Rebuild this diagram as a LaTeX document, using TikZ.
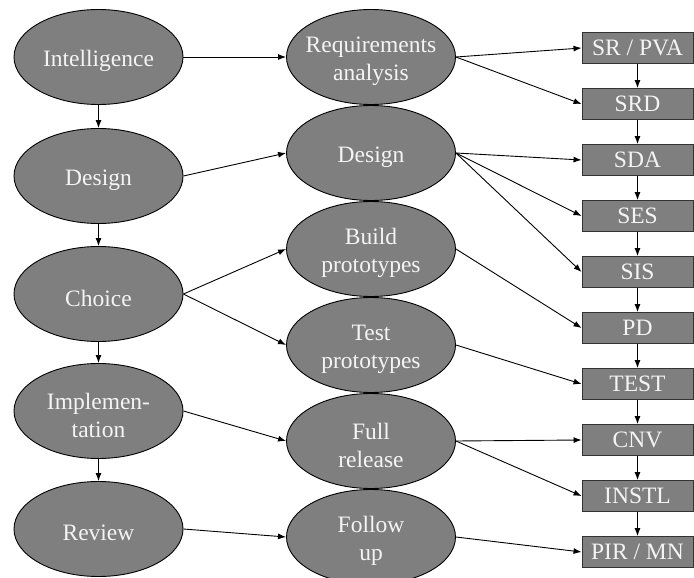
\documentclass[tikz,border=0pt]{standalone}
\usepackage{fontspec}
\setmainfont{Liberation Serif}
\usepackage{xcolor}
\usetikzlibrary{shapes.geometric,arrows.meta}

\definecolor{phasegray}{HTML}{7F7F7F}
\definecolor{phasetext}{HTML}{F4F4F4}

\tikzset{
  phase/.style={ellipse, draw=black, line width=0.9pt, fill=phasegray,
    minimum width=169pt, minimum height=95pt, inner sep=0pt},
  txt/.style={text=phasetext, align=center, inner sep=0pt, yshift=-4pt,
    font=\fontsize{23.5}{28}\selectfont},
  doc/.style={rectangle, draw=black!80, line width=0.9pt, fill=phasegray,
    text=phasetext, minimum width=111pt, minimum height=31pt, inner sep=0pt,
    font=\fontsize{23.5}{28}\selectfont},
  arr/.style={-{Latex[length=8pt,width=6pt]}, line width=0.9pt}
}

\begin{document}
\begin{tikzpicture}[x=1pt,y=-1pt]
  \useasboundingbox (0,0) rectangle (694,578);
  \def\lx{98.5};
  \def\mx{371};
  \def\bx{637.5};

  % phases of the decision process %
  \node[phase, label={[txt]center:Intelligence}] (intel) at (\lx,57) {};
  \node[phase, label={[txt]center:Design}] (ldes) at (\lx,176) {};
  \node[phase, label={[txt]center:Choice}] (choice) at (\lx,294) {};
  \node[phase, label={[txt]center:{Implemen-\\tation}}] (impl) at (\lx,411) {};
  \node[phase, label={[txt]center:Review}] (review) at (\lx,529) {};

  % development steps %
  \node[phase, label={[txt]center:{Requirements\\analysis}}] (req) at (\mx,57) {};
  \node[phase, label={[txt]center:Design}] (mdes) at (\mx,153) {};
  \node[phase, label={[txt]center:{Build\\prototypes}}] (build) at (\mx,249) {};
  \node[phase, label={[txt]center:{Test\\prototypes}}] (test) at (\mx,345) {};
  \node[phase, label={[txt]center:{Full\\release}}] (full) at (\mx,441) {};
  \node[phase, label={[txt]center:{Follow\\up}}] (follow) at (\mx,537) {};

  % documents %
  \node[doc] (srpva) at (\bx,48) {SR / PVA};
  \node[doc] (srd) at (\bx,104) {SRD};
  \node[doc] (sda) at (\bx,160) {SDA};
  \node[doc] (ses) at (\bx,216) {SES};
  \node[doc] (sis) at (\bx,272) {SIS};
  \node[doc] (pd) at (\bx,328) {PD};
  \node[doc] (tst) at (\bx,384) {TEST};
  \node[doc] (cnv) at (\bx,440) {CNV};
  \node[doc] (instl) at (\bx,496) {INSTL};
  \node[doc] (pirmn) at (\bx,552) {PIR / MN};

  \draw[arr] (intel) -- (ldes);
  \draw[arr] (ldes) -- (choice);
  \draw[arr] (choice) -- (impl);
  \draw[arr] (impl) -- (review);

  \draw[arr] (intel.east) -- (req.west);
  \draw[arr] (ldes.east) -- (mdes.west);
  \draw[arr] (choice.east) -- (build.west);
  \draw[arr] (choice.east) -- (test.west);
  \draw[arr] (impl.east) -- (full.west);
  \draw[arr] (review.east) -- (follow.west);

  \draw[arr] (req.east) -- (srpva.west);
  \draw[arr] (req.east) -- (srd.west);
  \draw[arr] (mdes.east) -- (sda.west);
  \draw[arr] (mdes.east) -- (ses.west);
  \draw[arr] (mdes.east) -- (sis.west);
  \draw[arr] (build.east) -- (pd.west);
  \draw[arr] (test.east) -- (tst.west);
  \draw[arr] (full.east) -- (cnv.west);
  \draw[arr] (full.east) -- (instl.west);
  \draw[arr] (follow.east) -- (pirmn.west);

  \foreach \a/\b in {srpva/srd,srd/sda,sda/ses,ses/sis,sis/pd,pd/tst,tst/cnv,cnv/instl,instl/pirmn}
    \draw[arr] (\a) -- (\b);
\end{tikzpicture}
\end{document}
